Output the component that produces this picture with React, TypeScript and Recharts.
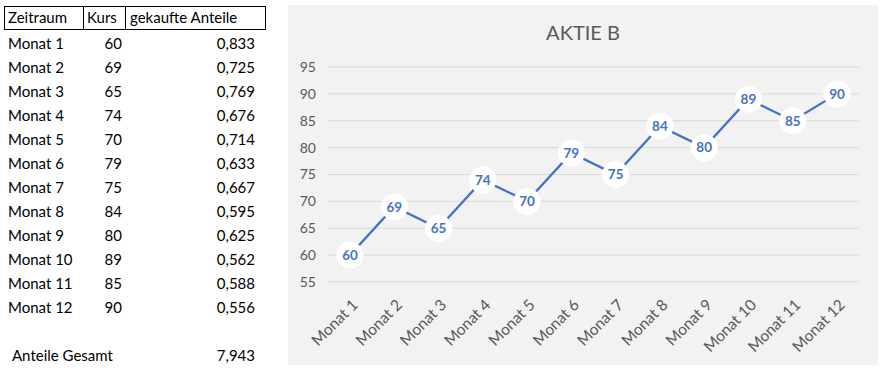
import React from "react";
import { LineChart, Line, XAxis, YAxis, CartesianGrid } from "recharts";

const months = ["Monat 1", "Monat 2", "Monat 3", "Monat 4", "Monat 5", "Monat 6", "Monat 7", "Monat 8", "Monat 9", "Monat 10", "Monat 11", "Monat 12"];
const kurs = [60, 69, 65, 74, 70, 79, 75, 84, 80, 89, 85, 90];
const anteile = ["0,833", "0,725", "0,769", "0,676", "0,714", "0,633", "0,667", "0,595", "0,625", "0,562", "0,588", "0,556"];
const totalLabel = "Anteile Gesamt";
const totalValue = "7,943";
const yTicks = [55, 60, 65, 70, 75, 80, 85, 90, 95];
const headers = ["Zeitraum", "Kurs", "gekaufte Anteile"];
const title = "AKTIE B";

const data = months.map((m, i) => ({ month: m, kurs: kurs[i] }));

const FONT = "Lato, 'Open Sans', sans-serif";
const BLUE = "#4472c4";
const GREY = "#595959";

const Dot = (props: any) => {
  const { cx, cy, value, index } = props;
  return (
    <g key={`d${index}`}>
      <circle cx={cx} cy={cy} r={13.5} fill="#ffffff" />
      <text x={cx} y={cy} dy="0.36em" textAnchor="middle" fill={BLUE} fontSize={13.5} fontWeight={700} fontFamily={FONT}>
        {value}
      </text>
    </g>
  );
};

const XTick = (props: any) => {
  const { x, y, payload } = props;
  return (
    <g transform={`translate(${x + 5},${y + 12}) rotate(-45)`}>
      <text x={0} y={0} dy="0.35em" textAnchor="end" fill={GREY} fontSize={15.5} fontFamily={FONT}>
        {payload.value}
      </text>
    </g>
  );
};

const cell = (extra: React.CSSProperties): React.CSSProperties => ({
  position: "absolute",
  height: 24,
  lineHeight: "24px",
  fontSize: 15,
  fontFamily: FONT,
  color: "#000",
  whiteSpace: "nowrap",
  ...extra,
});

export default function App() {
  return (
    <div style={{ position: "absolute", left: 0, top: 0, width: 886, height: 373, background: "#fff", overflow: "hidden" }}>
      <div style={{ position: "absolute", left: 4, top: 6, width: 260, height: 22, border: "1px solid #000" }} />
      <div style={{ position: "absolute", left: 83, top: 6, width: 1, height: 24, background: "#000" }} />
      <div style={{ position: "absolute", left: 125, top: 6, width: 1, height: 24, background: "#000" }} />
      <div style={cell({ left: 8, top: 5 })}>{headers[0]}</div>
      <div style={cell({ left: 87, top: 5 })}>{headers[1]}</div>
      <div style={cell({ left: 130, top: 5 })}>{headers[2]}</div>
      {months.map((m, i) => (
        <React.Fragment key={m}>
          <div style={cell({ left: 8, top: 31 + 24 * i })}>{m}</div>
          <div style={cell({ left: 83, width: 39, textAlign: "right", top: 31 + 24 * i })}>{kurs[i]}</div>
          <div style={cell({ left: 126, width: 129, textAlign: "right", top: 31 + 24 * i })}>{anteile[i]}</div>
        </React.Fragment>
      ))}
      <div style={cell({ left: 12, top: 31 + 24 * 13 })}>{totalLabel}</div>
      <div style={cell({ left: 126, width: 129, textAlign: "right", top: 31 + 24 * 13 })}>{totalValue}</div>

      <div style={{ position: "absolute", left: 288, top: 5, width: 590, height: 360, background: "#f2f2f2" }}>
        <div style={{ position: "absolute", left: 0, top: 15, width: 590, textAlign: "center", fontFamily: FONT, fontSize: 20, color: GREY }}>
          {title}
        </div>
        <LineChart width={590} height={360} data={data} margin={{ top: 62, right: 19, bottom: 10, left: 0 }}>
          <CartesianGrid vertical={false} stroke="#d9d9d9" strokeWidth={1} />
          <XAxis
            dataKey="month"
            axisLine={false}
            tickLine={false}
            height={73}
            interval={0}
            padding={{ left: 22, right: 22 }}
            tick={<XTick />}
          />
          <YAxis
            domain={[55, 95]}
            ticks={yTicks}
            width={40}
            axisLine={false}
            tickLine={false}
            tickSize={0}
            tickMargin={12}
            tick={{ fill: GREY, fontSize: 14, fontFamily: FONT }}
          />
          <Line
            type="linear"
            dataKey="kurs"
            stroke={BLUE}
            strokeWidth={2.25}
            dot={<Dot />}
            activeDot={false}
            isAnimationActive={false}
          />
        </LineChart>
      </div>
    </div>
  );
}
